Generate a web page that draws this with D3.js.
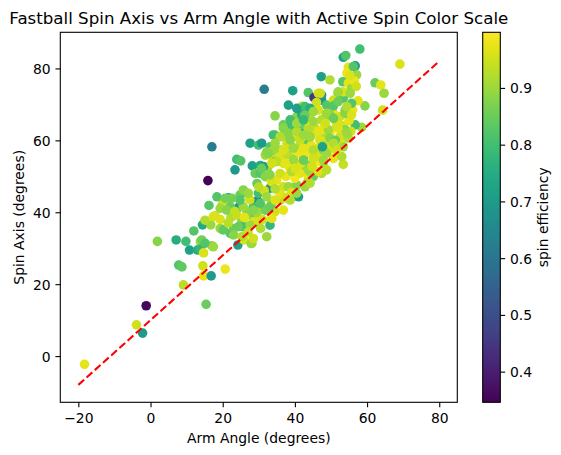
<!DOCTYPE html>
<html><head><meta charset="utf-8">
<script src="https://cdn.jsdelivr.net/npm/d3@7"></script>
<style>body{margin:0;background:#fff} svg{display:block} text{font-family:"DejaVu Sans",sans-serif;fill:#000}</style>
</head><body><svg id="c" width="561" height="455"></svg>
<script>
// ---- data ----
// group A: lower-left and isolated pitches
const armA=[-18.3,-3.9,-2.2,-1.2,15.4,9.1,7.8,8.7,14.5,14.7,16.8,20.7,1.9,7.1,9.8,10.8,13.8,14.9,17.0,13.0,13.8,14.7,12.0,14.4,16.7,16.2,17.9,19.3,19.9,22.1,24.2,25.9,27.9,17.0,15.9];
const axisA=[-2.3,8.7,6.4,14.0,14.4,19.8,25.3,24.8,25.1,22.3,22.3,24.2,31.9,32.3,31.9,29.5,31.8,31.4,30.7,29.5,29.8,28.7,34.8,36.5,36.5,41.9,39.0,38.0,35.2,34.1,30.9,32.3,31.3,58.2,48.8];
const effA=[0.97,0.95,0.70,0.36,0.85,0.93,0.82,0.84,0.95,0.97,0.70,0.98,0.88,0.75,0.80,0.72,0.91,0.80,0.88,0.75,0.78,0.96,0.82,0.74,0.90,0.82,0.95,0.96,0.88,0.82,0.72,0.96,0.88,0.62,0.35];
// group B: left cluster
const armB=[38.2,34.5,27.6,29.9,23.9,25.0,23.4,28.2,30.4,31.8,21.6,24.4,29.6,19.9,22.1,26.7,28.3,22.3,25.3,28.5,23.0,25.6];
const axisB=[69.8,66.8,59.2,58.7,54.7,54.3,51.8,52.9,53.0,55.9,44.0,41.4,43.2,42.2,41.5,40.2,39.7,38.6,37.8,37.4,35.5,36.0];
const effB=[0.72,0.88,0.72,0.80,0.80,0.82,0.70,0.72,0.74,0.90,0.72,0.72,0.66,0.95,0.85,0.90,0.82,0.92,0.88,0.96,0.85,0.80];
// group C: top of the cloud
const armC=[58.0,53.4,54.1,69.1,54.8,56.7,54.4,57.1,47.3,49.7,53.3,54.8,55.7,39.4,43.7,45.3,46.5,47.4,47.4,62.2,63.8,64.7,59.4,64.3,53.4,58.5,56.7,52.5,31.5,56.2];
const axisC=[85.4,83.1,83.6,81.2,80.3,80.7,78.7,78.2,77.7,76.8,76.3,75.9,74.5,73.8,73.3,71.9,73.1,72.6,71.2,76.0,75.4,73.1,69.6,68.4,53.3,63.6,64.3,64.3,74.2,80.5];
const effC=[0.80,0.72,0.82,0.96,0.97,0.70,0.98,0.90,0.72,0.92,0.82,0.97,0.90,0.72,0.82,0.45,0.96,0.66,0.68,0.85,0.97,0.90,0.88,0.95,0.94,0.90,0.80,0.92,0.62,0.82];
// group D: lower body of the cloud
const armD=[32.2,28.1,33.1,29.9,41.0,35.0,35.9,36.8,43.7,42.9,44.2, 34.5,36.8,38.7,41.4,44.2,46.1,48.4, 33.1,35.9,38.7,41.4,43.7,46.5, 33.6,36.8,34.5,39.6,42.4,45.6,47.9, 29.0,30.4,31.8,29.5,29.9,33.1,38.2,40.5,43.3,45.1,47.4, 24.8,26.7,18.4,20.7, 25.7,28.5,30.8,33.6,35.9, 19.3,21.1, 23.9,26.7,29.5,31.8,34.5, 15.1,17.4, 24.4,27.6,29.9,33.6, 23.0,25.3,28.5, 19.3,20.2, 14.2,15.1,17.4];
const axisD=[33.2,31.4,36.4,42.9,44.3,49.0,46.2,47.1,49.9,52.0,53.0, 61.5,61.0,62.0,62.4,61.0,62.0,61.5, 58.2,57.3,58.7,58.7,59.2,57.8, 55.5,53.6,54.1,55.0,55.5,55.9,53.6, 50.8,50.8,49.9,48.0,45.3,46.7,47.1,47.6,48.1,49.9,50.8, 44.8,45.3,44.3,43.9, 41.5,41.5,41.5,42.5,43.4, 41.1,40.6, 39.2,39.2,39.7,40.6,40.2, 37.8,38.8, 36.0,36.4,37.4,38.3, 33.7,33.2,32.7, 35.5,35.1, 32.3,31.4,30.4];
const effD=[0.90,0.90,0.78,0.68,0.72,0.97,0.96,0.95,0.97,0.90,0.88, 0.85,0.90,0.82,0.72,0.90,0.97,0.92, 0.82,0.90,0.83,0.92,0.82,0.96, 0.95,0.97,0.85,0.90,0.82,0.90,0.91, 0.85,0.82,0.88,0.85,0.80,0.70,0.90,0.88,0.92,0.85,0.92, 0.85,0.82,0.82,0.86, 0.90,0.80,0.90,0.88,0.93, 0.90,0.88, 0.94,0.88,0.90,0.86,0.95, 0.92,0.96, 0.85,0.90,0.96,0.97, 0.88,0.92,0.95, 0.90,0.84, 0.86,0.82,0.90];
// group H: bright (high efficiency) pitches filling the core
const armH=[37.5,38.5,40.0,41.5,43.0,44.5,46.0,47.0,48.0,49.5,50.0,51.5,52.8,53.5,55.0,55.5,56.0,57.5,56.5,55.2,57.0, 36.0,37.8,39.5,41.0,43.5,45.5,47.5,48.5,50.5,44.0,46.0,42.0,38.0,33.5,31.5,30.0,32.5,36.0,34.5,39.0,27.5,26.0,21.5,31.0,30.5,27.0,37.5];
const axisH=[50.0,52.5,49.5,53.5,56.5,58.5,54.0,56.0,59.5,58.0,62.5,65.0,59.5,64.0,65.5,62.5,68.5,71.0,76.5,78.0,75.0, 55.5,59.0,61.0,56.5,64.5,63.5,63.0,66.5,68.0,66.5,70.5,69.5,56.0,48.5,46.0,47.0,52.5,45.0,46.5,45.5,43.5,38.5,37.0,38.0,35.5,34.5,44.0];
const effH=[0.98,0.97,0.99,0.96,0.98,0.97,0.99,0.96,0.98,0.97,0.99,0.97,0.98,0.96,0.97,0.95,0.98,0.97,0.98,0.96,0.95, 0.96,0.95,0.97,0.98,0.96,0.94,0.98,0.95,0.97,0.93,0.95,0.92,0.93,0.96,0.95,0.93,0.90,0.97,0.92,0.96,0.95,0.97,0.93,0.95,0.92,0.94,0.95];
// group E: dense core
const armE=[42.8,44.2,46.5,48.8,52.0,53.4,50.7, 40.5,41.9,45.1,47.4,49.7,52.5,53.9, 36.8,39.1, 43.7,46.5,49.3,51.6,53.9, 34.0,35.9,38.7, 41.4,44.2,46.9,49.7,52.5,54.8, 30.8, 32.2,34.0,36.8,39.6, 42.4,45.1,47.9,50.7,53.4, 31.3,35.0, 39.6,42.4,45.1,47.9,50.7,53.0, 33.1,35.9,39.1,41.4,44.2,46.5,48.8];
const axisE=[69.4,68.9,68.4,69.8,73.1,71.7,71.2, 66.6,67.1,65.2,65.7,67.1,66.6,68.4, 64.3,63.8, 62.9,62.4,62.9,63.8,62.9, 61.5,61.0,60.1, 60.1,61.0,60.1,60.6,61.0,60.6, 59.2, 56.8,57.3,57.3,57.8, 57.8,57.3,57.3,57.8,58.2, 52.7,54.1, 54.5,54.5,55.0,54.5,55.0,55.5, 50.4,50.8,51.3,50.8,51.3,51.3,51.8];
const effE=[0.80,0.75,0.96,0.82,0.85,0.82,0.95, 0.88,0.75,0.90,0.92,0.88,0.95,0.90, 0.85,0.80, 0.92,0.97,0.90,0.95,0.88, 0.80,0.92,0.88, 0.94,0.90,0.96,0.88,0.95,0.92, 0.70, 0.88,0.90,0.96,0.90, 0.97,0.92,0.88,0.96,0.90, 0.70,0.93, 0.90,0.85,0.95,0.90,0.97,0.92, 0.88,0.95,0.92,0.97,0.90,0.96,0.93];
// group F: upper right of the core
const armF=[50.7,52.0,55.7, 48.8,50.7,53.9,55.7, 48.4,52.0,54.4,51.2, 50.7,51.6,48.8,47.9, 47.6, 53.4,52.0,55.3,54.4,47.0];
const axisF=[69.6,70.8,70.3, 67.5,66.1,67.5,67.1, 64.7,63.4,62.0,60.0, 59.2,57.3,56.4,58.7, 58.2, 73.5,73.5,73.1,69.4,73.1];
const effF=[0.82,0.85,0.82, 0.90,0.85,0.88,0.96, 0.95,0.96,0.90,0.85, 0.92,0.95,0.90,0.93, 0.72, 0.96,0.90,0.90,0.92,0.95];
// group G: upper-left of the core and near the line
const armG=[40.5,42.8,45.1, 36.8,41.4, 38.2,40.5,42.4, 38.7,40.5,42.4, 34.5,32.7,33.6,30.8, 25.7,27.1,24.8,22.5,23.4,28.5,30.4,32.2,33.1,34.5,36.8,38.7,40.5, 42.8,44.2,37.3,40.1,44.7];
const axisG=[68.9,67.0,68.0, 63.4,64.3, 62.0,62.4,61.5, 65.7,64.7,65.7, 59.2,56.4,53.6,52.2, 46.2,45.3,43.4,43.9,40.2,40.6,42.5,44.3,41.5,43.4,40.6,43.4,45.3, 47.1,48.1,53.6,52.2,52.7];
const effG=[0.72,0.85,0.90, 0.88,0.85, 0.88,0.92,0.90, 0.80,0.90,0.78, 0.90,0.88,0.95,0.85, 0.88,0.90,0.82,0.86,0.94,0.88,0.82,0.90,0.85,0.96,0.97,0.92,0.90, 0.90,0.92,0.97,0.96,0.95];

const refLineArm=[-20,80];
const refLineAxis=[-8,82];
const xTicks=[-20,0,20,40,60,80];
const yTicks=[0,20,40,60,80];
const cTicks=[0.4,0.5,0.6,0.7,0.8,0.9];
const effRange=[0.346,0.998];
const titleText="Fastball Spin Axis vs Arm Angle with Active Spin Color Scale";
const xLabel="Arm Angle (degrees)", yLabel="Spin Axis (degrees)", cLabel="spin efficiency";

// ---- build rows ----
const groups=[[armA,axisA,effA],[armB,axisB,effB],[armC,axisC,effC],[armD,axisD,effD],[armH,axisH,effH],[armE,axisE,effE],[armF,axisF,effF],[armG,axisG,effG]];
const pts=[];
groups.forEach(([a,s,e])=>{const n=Math.min(a.length,s.length,e.length);for(let i=0;i<n;i++)pts.push({arm:a[i],axis:s[i],eff:e[i]});});

// ---- layout ----
const svg=d3.select("#c");
const L=60.3,R=457.3,T=32.3,B=402.3;
const FS=13.9, TK=4.86;
const x=d3.scaleLinear().domain([-25,85]).range([L,R]);
const y=d3.scaleLinear().domain([-12.85,90.05]).range([B,T]);
const color=d3.scaleSequential(d3.interpolateViridis).domain(effRange);

svg.append("defs").append("clipPath").attr("id","clip").append("rect").attr("x",L).attr("y",T).attr("width",R-L).attr("height",B-T);

const plot=svg.append("g").attr("clip-path","url(#clip)");
plot.selectAll("circle").data(pts).join("circle")
  .attr("cx",d=>x(d.arm)).attr("cy",d=>y(d.axis)).attr("r",4.8)
  .attr("fill",d=>color(d.eff));
plot.append("line")
  .attr("x1",x(refLineArm[0])).attr("y1",y(refLineAxis[0]))
  .attr("x2",x(refLineArm[1])).attr("y2",y(refLineAxis[1]))
  .attr("stroke","#ff0000").attr("stroke-width",2.08).attr("stroke-dasharray","7.7,3.33");

// axes
const xa=svg.append("g").attr("transform",`translate(0,${B})`)
  .call(d3.axisBottom(x).tickValues(xTicks).tickSize(TK).tickPadding(TK));
const ya=svg.append("g").attr("transform",`translate(${L},0)`)
  .call(d3.axisLeft(y).tickValues(yTicks).tickSize(TK).tickPadding(TK));
[xa,ya].forEach(g=>{g.select(".domain").remove();g.selectAll("line").attr("stroke","#000").attr("stroke-width",1.1);g.selectAll("text").attr("font-size",FS).attr("font-family","DejaVu Sans");});
xa.selectAll("text").attr("dy","0.79em");
ya.selectAll("text").attr("dy","0.36em");
svg.append("rect").attr("x",L).attr("y",T).attr("width",R-L).attr("height",B-T).attr("fill","none").attr("stroke","#000").attr("stroke-width",1.1);

// labels
svg.append("text").attr("x",(L+R)/2).attr("y",24).attr("text-anchor","middle").attr("font-size",16.67).text(titleText);
svg.append("text").attr("x",(L+R)/2).attr("y",443).attr("text-anchor","middle").attr("font-size",FS).text(xLabel);
svg.append("text").attr("transform",`translate(24,${(T+B)/2}) rotate(-90)`).attr("text-anchor","middle").attr("font-size",FS).text(yLabel);

// colorbar
const CL=482.7, CR=500.3;
const yc=d3.scaleLinear().domain(effRange).range([B,T]);
const grad=svg.select("defs").append("linearGradient").attr("id","vir").attr("x1",0).attr("y1",1).attr("x2",0).attr("y2",0);
d3.range(0,1.0001,0.02).forEach(t=>grad.append("stop").attr("offset",t).attr("stop-color",d3.interpolateViridis(t)));
svg.append("rect").attr("x",CL).attr("y",T).attr("width",CR-CL).attr("height",B-T).attr("fill","url(#vir)");
const ca=svg.append("g").attr("transform",`translate(${CR},0)`)
  .call(d3.axisRight(yc).tickValues(cTicks).tickSize(TK).tickPadding(TK).tickFormat(d3.format(".1f")));
ca.select(".domain").remove();
ca.selectAll("line").attr("stroke","#000").attr("stroke-width",1.1);
ca.selectAll("text").attr("font-size",FS).attr("font-family","DejaVu Sans").attr("dy","0.36em");
svg.append("rect").attr("x",CL).attr("y",T).attr("width",CR-CL).attr("height",B-T).attr("fill","none").attr("stroke","#000").attr("stroke-width",1.1);
svg.append("text").attr("transform",`translate(548,${(T+B)/2}) rotate(-90)`).attr("text-anchor","middle").attr("font-size",FS).text(cLabel);
</script></body></html>
